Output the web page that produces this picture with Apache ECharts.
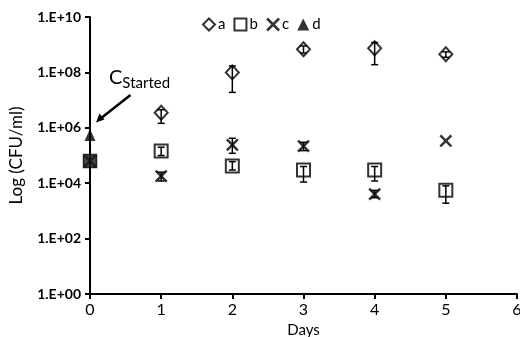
<!DOCTYPE html>
<html><head><meta charset="utf-8">
<script src="https://cdn.jsdelivr.net/npm/echarts@6/dist/echarts.min.js"></script>
<style>html,body{margin:0;padding:0;background:#fff}#c{width:520px;height:337px}</style>
</head><body><div id="c"></div>
<script>
const days = [0, 1, 2, 3, 4, 5];
const xTicks = [0, 1, 2, 3, 4, 5, 6];
const seriesNames = ['a', 'b', 'c', 'd'];
// values (CFU/ml); null = no point
const aVals = [null, 3.5e6, 1.0e8, 6.8e8, 7.4e8, 4.5e8];
const aLow  = [null, 1.45e6, 1.9e7, 5.0e8, 1.9e8, 3.5e8];
const aHigh = [null, 4.5e6, 1.7e8, 9.0e8, 1.2e9, 5.5e8];
const bVals = [6.3e4, 1.45e5, 4.2e4, 3.0e4, 3.0e4, 5.6e3];
const bLow  = [null, 1.0e5, 3.0e4, 1.1e4, 1.2e4, 1.9e3];
const bHigh = [null, 2.0e5, 6.0e4, 4.0e4, 4.0e4, 8.0e3];
const cVals = [6.3e4, 1.8e4, 2.4e5, 2.2e5, 4.0e3, 3.4e5];
const cLow  = [null, 1.2e4, 1.2e5, 1.5e5, 3.0e3, null];
const cHigh = [null, 2.5e4, 4.2e5, 3.0e5, 5.5e3, null];
const dVals = [5.5e5, null, null, null, null, null];
const yTickExps = [0, 2, 4, 6, 8, 10];

function pts(vals){ const r=[]; vals.forEach((v,i)=>{ if(v!=null) r.push([days[i], v]); }); return r; }
function errs(lo, hi){ const r=[]; lo.forEach((v,i)=>{ if(v!=null) r.push([days[i], v, hi[i]]); }); return r; }
const allErr = [].concat(errs(aLow,aHigh), errs(bLow,bHigh), errs(cLow,cHigh));

const chart = echarts.init(document.getElementById('c'), null, {renderer:'canvas'});
const sans = 'Lato';
const xPath = 'path://M0,0 L10,10 M10,0 L0,10';
const mk = {color:'transparent', borderColor:'#000', borderWidth:2};
// start point (day 0) where series overlap: drawn as a dotted dark square
const bData = pts(bVals).map((p,i)=> i===0 ? {value:p, itemStyle:{color:'#1a1a1a', borderColor:'#000', borderWidth:1.5,
  decal:{symbol:'circle', symbolSize:0.8, color:'#e0e0e0', dashArrayX:[[3,2]], dashArrayY:[3,2], rotation:0}}} : p);
chart.setOption({
  animation:false,
  backgroundColor:'#fff',
  grid:{left:90, right:3, top:17, bottom:43, outerBoundsMode:'none', containLabel:false},
  legend:{
    top:12, left:197, itemGap:8, itemWidth:12, itemHeight:12,
    textStyle:{fontFamily:sans, fontSize:15, color:'#000', padding:[0,0,0,-2]},
    data:[
      {name:'a', icon:'diamond', itemStyle:mk},
      {name:'b', icon:'rect', itemStyle:mk},
      {name:'c', icon:xPath, itemStyle:{color:'transparent', borderColor:'#000', borderWidth:2.5}},
      {name:'d', icon:'triangle', itemStyle:{color:'#000'}}
    ]
  },
  xAxis:{
    type:'value', min:xTicks[0], max:xTicks[xTicks.length-1], interval:1,
    name:'Days', nameLocation:'middle', nameGap:24,
    nameTextStyle:{fontFamily:sans, fontSize:15, color:'#000'},
    axisLine:{lineStyle:{color:'#000', width:2}},
    axisTick:{show:true, length:5, lineStyle:{color:'#000', width:2}},
    axisLabel:{fontFamily:sans, fontSize:16, color:'#000', margin:8},
    splitLine:{show:false}
  },
  yAxis:{
    type:'log', logBase:10, min:Math.pow(10,yTickExps[0]), max:Math.pow(10,yTickExps[yTickExps.length-1]), interval:2,
    name:'Log (CFU/ml)', nameLocation:'middle', nameGap:65,
    nameTextStyle:{fontFamily:sans, fontSize:17, color:'#000'},
    axisLine:{show:true, lineStyle:{color:'#000', width:2}},
    axisTick:{show:true, length:5, lineStyle:{color:'#000', width:2}},
    axisLabel:{fontFamily:sans, fontWeight:'bold', fontSize:14, color:'#000', margin:9,
      formatter:v=>{const e=Math.round(Math.log10(v)); return '1.E+'+(e<10?'0':'')+e;}},
    splitLine:{show:false}
  },
  series:[
    {name:'a', type:'scatter', data:pts(aVals), symbol:'diamond', symbolSize:[13,14], itemStyle:mk, z:3},
    {name:'c', type:'scatter', data:pts(cVals), symbol:xPath, symbolSize:11, itemStyle:{color:'transparent', borderColor:'#000', borderWidth:2.5}, z:3},
    {name:'b', type:'scatter', data:bData, symbol:'rect', symbolSize:13, itemStyle:mk, z:3},
    {name:'d', type:'scatter', data:pts(dVals), symbol:'triangle', symbolSize:[11,12], itemStyle:{color:'#000'}, z:3},
    {name:'err', type:'custom', data:allErr, z:4, silent:true,
      renderItem:function(params, api){
        const x = api.value(0);
        const lo = api.coord([x, api.value(1)]);
        const hi = api.coord([x, api.value(2)]);
        const w = 3.5;
        const st = {stroke:'#000', lineWidth:1.5};
        return {type:'group', children:[
          {type:'line', shape:{x1:lo[0], y1:lo[1], x2:hi[0], y2:hi[1]}, style:st},
          {type:'line', shape:{x1:lo[0]-w, y1:lo[1], x2:lo[0]+w, y2:lo[1]}, style:st},
          {type:'line', shape:{x1:hi[0]-w, y1:hi[1], x2:hi[0]+w, y2:hi[1]}, style:st}
        ]};
      }
    }
  ],
  graphic:[
    {type:'text', left:109, top:68, style:{
      text:'{c|C}{s|Started}', fill:'#000',
      rich:{c:{fontFamily:sans, fontSize:20, color:'#000', verticalAlign:'top'},
            s:{fontFamily:sans, fontSize:15, color:'#000', padding:[8,0,0,0]}}
    }},
    {type:'line', shape:{x1:130.5, y1:95, x2:100, y2:119}, style:{stroke:'#000', lineWidth:2.5}},
    {type:'polygon', shape:{points:[[96,122.5],[99.5,113.5],[104.5,119.5]]}, style:{fill:'#000'}}
  ]
});
</script></body></html>
